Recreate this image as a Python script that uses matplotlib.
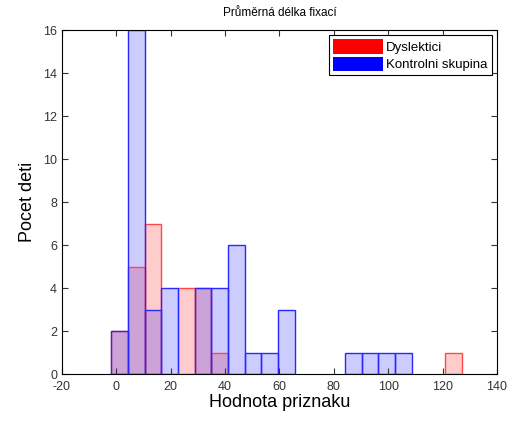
import matplotlib.pyplot as plt
import numpy as np

# histogram bins shared by both groups
bin_edges = np.linspace(-1.9, 127.1, 22)

# counts per bin
dyslektici = [2, 5, 7, 0, 4, 4, 1, 0, 0, 0, 0, 0, 0, 0, 0, 0, 0, 0, 0, 0, 1]
kontrolni = [2, 16, 3, 4, 0, 4, 4, 6, 1, 1, 3, 0, 0, 0, 1, 1, 1, 1, 0, 0, 0]

plt.rcParams['font.family'] = ['Liberation Sans', 'DejaVu Sans']
plt.rcParams['axes.unicode_minus'] = False

fig = plt.figure(figsize=(5.16, 4.21), dpi=100)
ax = fig.add_axes([0.120, 0.1116, 0.843, 0.817])

left = bin_edges[:-1]
width = np.diff(bin_edges)

groups = [(np.array(dyslektici), 'red', '#ff4848', 'Dyslektici'),
          (np.array(kontrolni), 'blue', '#2828ff', 'Kontrolni skupina')]

# fills first, outlines afterwards so the blue edges stay on top
for counts, color, edge, label in groups:
    m = counts > 0
    ax.bar(left[m], counts[m], width=width[m], align='edge',
           color=color, alpha=0.2, edgecolor='none')
for counts, color, edge, label in groups:
    m = counts > 0
    ax.bar(left[m], counts[m], width=width[m], align='edge',
           fill=False, edgecolor=edge, linewidth=1.0)
    ax.bar([0], [0], width=0, color=color, label=label)

ax.set_xlim(-20, 140)
ax.set_ylim(0, 16)
ax.set_xticks(np.arange(-20, 141, 20))
ax.set_yticks(np.arange(0, 17, 2))
ax.tick_params(direction='in', length=4, labelsize=9, top=True, right=True,
               labeltop=False, labelright=False, colors='#333333')
ax.tick_params(axis='x', pad=5)
for s in ax.spines.values():
    s.set_linewidth(0.8)

ax.set_title('Průměrná délka fixací', fontsize=8.5, pad=10)
ax.set_xlabel('Hodnota priznaku', fontsize=13, labelpad=1)
ax.set_ylabel('Pocet deti', fontsize=13, labelpad=5)

leg = ax.legend(loc='upper right', fontsize=9.5, fancybox=False, framealpha=1,
                edgecolor='black', handlelength=3.8, handleheight=1.3,
                borderpad=0.3, labelspacing=0.2, handletextpad=0.25,
                borderaxespad=0.4)
leg.get_frame().set_linewidth(0.8)

fig.savefig('out.png', dpi=100)
